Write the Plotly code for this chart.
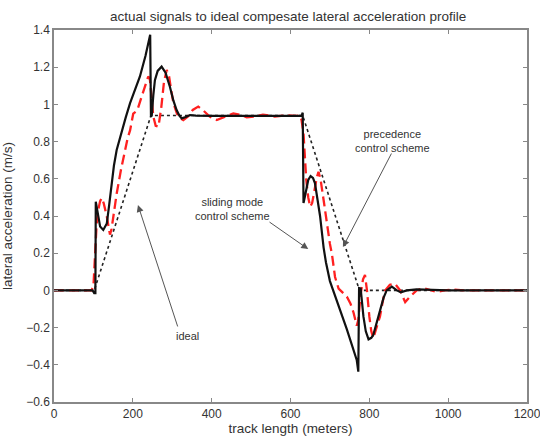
import plotly.graph_objects as go

# ---------------- data ----------------
ideal_x = [0, 102, 246, 631, 775, 1200]
ideal_y = [0, 0, 0.94, 0.94, 0, 0]

sliding_x = [0, 98, 102, 105, 106, 112, 117, 125, 134, 140, 146, 152, 159, 172, 182, 193, 205, 218, 232, 244,
             246, 248, 252, 256, 263, 273, 283, 294, 303, 311, 318, 324, 334, 345, 360, 400, 500, 600, 628,
             631, 633, 638, 645, 651, 657, 662, 668, 675, 684, 690, 700, 710, 717, 743, 768, 772,
             774, 778, 785, 791, 798, 805, 810, 818, 827, 836, 844, 857, 870, 880, 895, 920, 1000, 1200]
sliding_y = [0, 0, -0.015, -0.015, 0.477, 0.40, 0.343, 0.325, 0.36, 0.46, 0.575, 0.67, 0.755, 0.86, 0.93, 1.007, 1.075, 1.15, 1.26, 1.375,
             0.934, 0.94, 1.05, 1.13, 1.18, 1.203, 1.17, 1.095, 1.02, 0.97, 0.94, 0.925, 0.932, 0.943, 0.94, 0.938, 0.938, 0.94, 0.94,
             0.955, 0.47, 0.52, 0.594, 0.615, 0.605, 0.577, 0.49, 0.40, 0.23, 0.15, 0.05, -0.01, -0.05, -0.21, -0.374, -0.437,
             0.013, 0.01, -0.14, -0.22, -0.263, -0.255, -0.24, -0.18, -0.105, -0.04, 0.0, 0.02, 0.0, -0.01, 0.0, 0.005, 0, 0]

precedence_x = [0, 95, 100, 104, 108, 112, 117, 121, 126, 134, 138, 142, 146, 152, 159, 170, 180, 187, 193, 201, 207, 213,
                222, 231, 239, 243, 248, 252, 258, 265, 272, 279, 286, 292, 297, 303, 312, 320, 328, 340, 352, 366, 380,
                395, 413, 430, 455, 472, 489, 510, 530, 560, 590, 615, 624, 628, 633, 637, 640, 645, 650, 655, 662, 667,
                671, 676, 684, 692, 700, 705, 713, 722, 734, 743, 752, 760, 768, 772, 778, 784, 789, 794, 800, 805, 810,
                816, 827, 834, 840, 852, 865, 878, 891, 905, 920, 937, 955, 971, 990, 1010, 1040, 1200]
precedence_y = [0, 0, 0.02, 0.217, 0.35, 0.43, 0.48, 0.497, 0.47, 0.397, 0.34, 0.30, 0.33, 0.42, 0.52, 0.65, 0.755, 0.82, 0.86, 0.95, 0.96, 0.98,
                1.04, 1.095, 1.15, 1.14, 1.02, 0.934, 0.885, 0.88, 0.98, 1.12, 1.185, 1.15, 1.08, 1.007, 0.95, 0.925, 0.916, 0.935, 0.97, 0.988, 0.965,
                0.935, 0.916, 0.93, 0.952, 0.945, 0.93, 0.935, 0.945, 0.935, 0.942, 0.938, 0.94, 0.916, 0.845, 0.70, 0.594, 0.50, 0.45, 0.47, 0.557, 0.61,
                0.638, 0.60, 0.486, 0.36, 0.25, 0.197, 0.072, 0.01, -0.016, -0.034, -0.07, -0.12, -0.19, -0.16, -0.02, 0.06, 0.083, 0.0, -0.14, -0.22, -0.257,
                -0.22, -0.14, -0.06, 0.0, 0.03, 0.036, 0.0, -0.063, -0.03, 0.0, 0.013, 0.0, -0.008, 0.0, 0.005, 0, 0]

x_ticks = [0, 200, 400, 600, 800, 1000, 1200]
y_ticks = [-0.6, -0.4, -0.2, 0, 0.2, 0.4, 0.6, 0.8, 1, 1.2, 1.4]
y_tick_text = ["\u22120.6", "\u22120.4", "\u22120.2", "0", "0.2", "0.4", "0.6", "0.8", "1", "1.2", "1.4"]

title_text = "actual signals to ideal compesate lateral acceleration profile"
x_title = "track length (meters)"
y_title = "lateral acceleration (m/s)"

# annotation labels: (text, x, y)
labels = [("sliding mode<br>control scheme", 454, 0.44),
          ("precedence<br>control scheme", 858, 0.803),
          ("ideal", 338, -0.245)]
# arrows: (head_x, head_y, tail_x, tail_y)
arrows = [(645, 0.222, 543, 0.373),
          (733, 0.233, 858, 0.744),
          (213, 0.459, 315, -0.202)]

FONT = "Liberation Sans, Arial, Helvetica, sans-serif"
TXT = "#333333"
AX = "#888888"

fig = go.Figure()
fig.add_trace(go.Scatter(x=ideal_x, y=ideal_y, mode="lines",
                         line=dict(color="#222222", width=1.6, dash="dot"), hoverinfo="skip"))
fig.add_trace(go.Scatter(x=precedence_x, y=precedence_y, mode="lines",
                         line=dict(color="#ff2020", width=2.3, dash="10px,5px"), hoverinfo="skip"))
fig.add_trace(go.Scatter(x=sliding_x, y=sliding_y, mode="lines",
                         line=dict(color="#111111", width=2.2), hoverinfo="skip"))

annotations = []
for t, x, y in labels:
    annotations.append(dict(text=t, x=x, y=y, xref="x", yref="y", showarrow=False,
                            font=dict(family=FONT, size=11, color=TXT), align="center"))
for hx, hy, tx, ty in arrows:
    annotations.append(dict(text="", x=hx, y=hy, ax=tx, ay=ty, xref="x", yref="y",
                            axref="x", ayref="y", showarrow=True, arrowhead=2,
                            arrowsize=1.4, arrowwidth=1, arrowcolor="#555555"))

fig.update_layout(
    width=540, height=436,
    margin=dict(l=54, r=13, t=30, b=34, autoexpand=False),
    paper_bgcolor="white", plot_bgcolor="white",
    showlegend=False,
    font=dict(family=FONT, size=12, color=TXT),
    title=dict(text=title_text, x=0.495, xanchor="center", xref="paper", y=1 - 16 / 436, yanchor="middle",
               yref="container", font=dict(family=FONT, size=13.5, color=TXT)),
    annotations=annotations,
)
fig.update_xaxes(range=[0, 1200], tickvals=x_ticks, ticks="inside", ticklen=4, tickcolor=AX,
                 showline=True, linecolor=AX, linewidth=1.5, mirror="ticks", showgrid=False,
                 zeroline=False, automargin=False, ticklabeloverflow="allow",
                 title=dict(text=x_title, standoff=0, font=dict(size=13.5)),
                 tickfont=dict(size=12))
fig.update_yaxes(range=[-0.6, 1.4], tickvals=y_ticks, ticktext=y_tick_text, ticks="inside", ticklen=4,
                 tickcolor=AX, showline=True, linecolor=AX, linewidth=1.5, mirror="ticks",
                 showgrid=False, zeroline=False, automargin=False, ticklabeloverflow="allow",
                 title=dict(text=y_title, standoff=12, font=dict(size=13.5)), tickfont=dict(size=12))

fig.write_html("out.html", config={"displayModeBar": False},
               post_script="document.body.style.margin='0px';")
